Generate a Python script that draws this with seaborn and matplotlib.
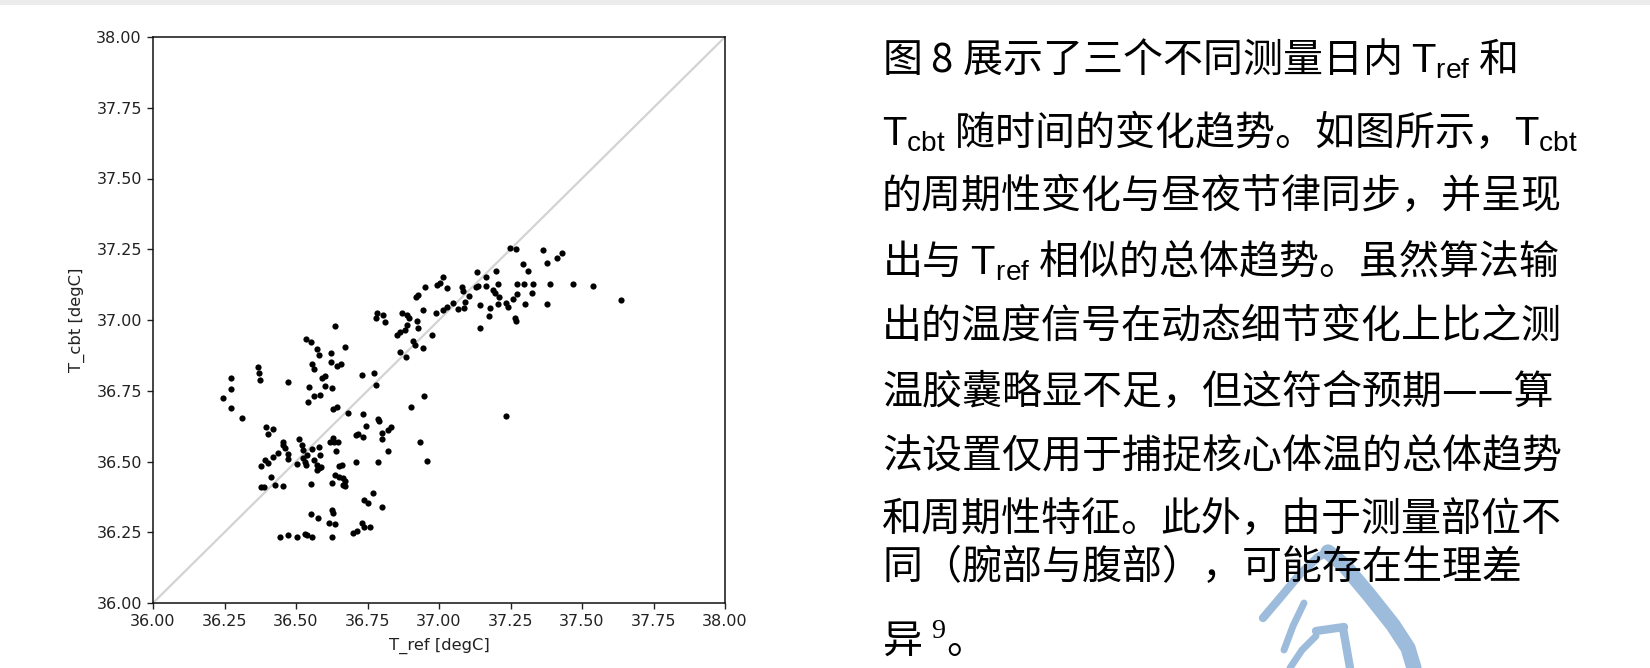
import matplotlib
matplotlib.use("Agg")
import matplotlib.pyplot as plt
import pandas as pd
import seaborn as sns
from matplotlib.patches import Rectangle

# values (reference vs. estimated core body temperature)
t_ref = [37.635, 37.540, 37.467, 37.429, 37.411, 37.362, 37.376, 37.388, 37.376, 37.312,
         37.295, 37.330, 37.324, 37.298, 37.301, 37.271, 37.271, 37.257, 37.248, 37.269,
         37.242, 37.234, 37.266, 37.268, 37.211, 37.199, 37.207, 37.190, 37.196, 37.207,
         37.178, 37.176, 37.164, 37.166, 37.143, 37.132, 37.137, 37.128, 37.143, 37.106,
         37.091, 37.081, 37.085, 37.088, 37.065, 37.048, 37.027, 37.015, 37.027, 37.013,
         37.003, 36.992, 36.951, 36.990, 36.925, 36.920, 36.943, 36.922, 36.889, 36.870,
         36.887, 36.928, 36.974, 36.782, 36.805, 36.780, 36.811, 36.881, 36.864, 36.852,
         36.636, 36.896,
         36.246, 36.272, 36.272, 36.272, 36.310, 36.366, 36.372, 36.374, 36.473, 36.534,
         36.551, 36.555, 36.563, 36.572, 36.581, 36.543, 36.547, 36.564, 36.584, 36.590,
         36.601, 36.601, 36.622, 36.622, 36.627, 36.642, 36.656, 36.671, 36.628, 36.644,
         36.683, 36.732, 36.735, 36.774, 36.780, 36.788, 36.902, 36.949, 36.864, 36.885,
         36.908, 36.916, 36.943,
         36.395, 36.421, 36.403, 36.456, 36.456, 36.462, 36.438, 36.421, 36.392, 36.403,
         36.378, 36.473, 36.473, 36.512, 36.520, 36.526, 36.537, 36.526, 36.531, 36.535,
         36.505, 36.555, 36.581, 36.584, 36.563, 36.572, 36.581, 36.586, 36.572, 36.619,
         36.628, 36.633, 36.648, 36.640, 36.652, 36.660, 36.636, 36.652, 36.663, 36.671,
         36.671, 36.666, 36.625, 36.378, 36.388, 36.427, 36.456, 36.411, 36.551, 36.710,
         36.718, 36.735, 36.710, 36.745, 36.791, 36.799, 36.799, 36.823, 36.831, 36.823,
         36.788, 36.934, 36.959, 36.770, 36.739, 36.753, 36.799, 36.551, 36.578, 36.625,
         36.628, 36.615, 36.636, 36.730, 36.738, 36.759, 36.698, 36.714, 36.444, 36.473,
         36.505, 36.531, 36.537, 36.555, 36.625, 37.234]
t_cbt = [37.071, 37.121, 37.126, 37.236, 37.218, 37.247, 37.200, 37.126, 37.057, 37.173,
         37.197, 37.126, 37.094, 37.126, 37.057, 37.126, 37.091, 37.074, 37.253, 37.251,
         37.047, 37.059, 37.006, 36.998, 37.082, 37.173, 37.126, 37.106, 37.094, 37.057,
         37.041, 37.014, 37.151, 37.121, 37.053, 37.171, 37.120, 37.116, 36.971, 37.086,
         37.065, 37.116, 37.104, 37.041, 37.038, 37.061, 37.047, 37.035, 37.112, 37.151,
         37.130, 37.124, 37.118, 37.026, 37.088, 37.080, 37.035, 36.998, 37.018, 37.026,
         36.982, 36.973, 36.947, 37.026, 37.018, 37.006, 36.994, 36.965, 36.959, 36.947,
         36.979, 37.006,
         36.723, 36.796, 36.756, 36.688, 36.655, 36.833, 36.814, 36.788, 36.780, 36.932,
         36.921, 36.845, 36.827, 36.896, 36.876, 36.711, 36.762, 36.733, 36.735, 36.794,
         36.802, 36.768, 36.882, 36.853, 36.761, 36.839, 36.845, 36.906, 36.684, 36.694,
         36.670, 36.804, 36.668, 36.814, 36.770, 36.650, 36.692, 36.731, 36.886, 36.870,
         36.926, 36.912, 36.900,
         36.623, 36.614, 36.597, 36.570, 36.558, 36.547, 36.529, 36.515, 36.505, 36.494,
         36.484, 36.527, 36.508, 36.580, 36.558, 36.541, 36.523, 36.511, 36.499, 36.488,
         36.490, 36.543, 36.552, 36.523, 36.505, 36.488, 36.476, 36.480, 36.470, 36.570,
         36.582, 36.570, 36.570, 36.537, 36.484, 36.488, 36.452, 36.444, 36.441, 36.432,
         36.413, 36.417, 36.423, 36.411, 36.411, 36.417, 36.413, 36.446, 36.419, 36.594,
         36.597, 36.586, 36.497, 36.627, 36.644, 36.602, 36.578, 36.611, 36.623, 36.537,
         36.497, 36.570, 36.502, 36.388, 36.364, 36.354, 36.340, 36.314, 36.299, 36.329,
         36.319, 36.284, 36.279, 36.284, 36.270, 36.267, 36.246, 36.254, 36.234, 36.240,
         36.234, 36.244, 36.240, 36.234, 36.234, 36.661]

axis_ticks = [36.00, 36.25, 36.50, 36.75, 37.00, 37.25, 37.50, 37.75, 38.00]
x_label = "T_ref [degC]"
y_label = "T_cbt [degC]"

# paragraph beside the figure, one entry per printed line
text_lines = [
    r"图 8 展示了三个不同测量日内 $\mathsf{T}_{\mathsf{ref}}$ 和",
    r"$\mathsf{T}_{\mathsf{cbt}}$ 随时间的变化趋势。如图所示，$\mathsf{T}_{\mathsf{cbt}}$",
    "的周期性变化与昼夜节律同步，并呈现",
    r"出与 $\mathsf{T}_{\mathsf{ref}}$ 相似的总体趋势。虽然算法输",
    "出的温度信号在动态细节变化上比之测",
    "温胶囊略显不足，但这符合预期——算",
    "法设置仅用于捕捉核心体温的总体趋势",
    "和周期性特征。此外，由于测量部位不",
    "同（腕部与腹部），可能存在生理差",
    r"异 $^{\mathrm{9}}$。",
]
text_line_y = [59, 132, 197, 261, 327, 393, 457, 520, 568, 643]

sns.set_theme(style="ticks")
plt.rcParams['font.family'] = ['DejaVu Sans']
plt.rcParams['mathtext.fontset'] = 'custom'
plt.rcParams['mathtext.sf'] = 'Liberation Sans'
plt.rcParams['mathtext.rm'] = 'Liberation Serif'

W, H = 1650, 668
fig = plt.figure(figsize=(W / 100, H / 100), dpi=100)
fig.patch.set_facecolor('white')

# light page shadow at the top and the watermark strokes
bg = fig.add_axes([0, 0, 1, 1])
bg.set_xlim(0, W)
bg.set_ylim(H, 0)
bg.axis('off')
bg.add_patch(Rectangle((0, 0), W, 5, color='#ececec', lw=0))
wm = '#9dbcdc'
bg.plot([1263, 1280, 1300, 1318, 1328], [618, 598, 574, 557, 552], color=wm, lw=6, solid_capstyle='round')
bg.plot([1328, 1345, 1370, 1393, 1408, 1414], [552, 566, 596, 625, 648, 668], color=wm, lw=11, solid_capstyle='round')
bg.plot([1304, 1293, 1284], [603, 626, 650], color=wm, lw=5, solid_capstyle='round')
bg.plot([1290, 1302, 1316], [668, 650, 636], color=wm, lw=5, solid_capstyle='round')
bg.plot([1316, 1344], [631, 627], color=wm, lw=6, solid_capstyle='round')
bg.plot([1343, 1350], [628, 668], color=wm, lw=6, solid_capstyle='round')

ax = fig.add_axes([153 / W, 1 - 603 / H, 572 / W, 566 / H])
ax.set_facecolor('white')
ax.plot([axis_ticks[0], axis_ticks[-1]], [axis_ticks[0], axis_ticks[-1]],
        color='#d3d3d3', lw=1.6, zorder=1)
df = pd.DataFrame({'T_ref': t_ref, 'T_cbt': t_cbt})
sns.scatterplot(data=df, x='T_ref', y='T_cbt', color='black', s=20, linewidth=0, ax=ax, zorder=3)
ax.set_xlim(axis_ticks[0], axis_ticks[-1])
ax.set_ylim(axis_ticks[0], axis_ticks[-1])
ax.set_xticks(axis_ticks)
ax.set_yticks(axis_ticks)
ax.set_xticklabels([f"{t:.2f}" for t in axis_ticks])
ax.set_yticklabels([f"{t:.2f}" for t in axis_ticks])
ax.tick_params(direction='out', length=4, width=1, colors='#222222', labelsize=11.5, pad=4)
for sp in ax.spines.values():
    sp.set_color('#111111')
    sp.set_linewidth(1.1)
ax.set_xlabel(x_label, fontsize=11.8, color='#222222', labelpad=6)
ax.set_ylabel(y_label, fontsize=11.8, color='#222222', labelpad=8)

for line, yy in zip(text_lines, text_line_y):
    fig.text(882 / W, 1 - yy / H, line, fontsize=28.8, va='center', ha='left', color='black',
             family=['Noto Sans CJK SC', 'DejaVu Sans'])

fig.savefig('out.png', dpi=100, facecolor='white')
